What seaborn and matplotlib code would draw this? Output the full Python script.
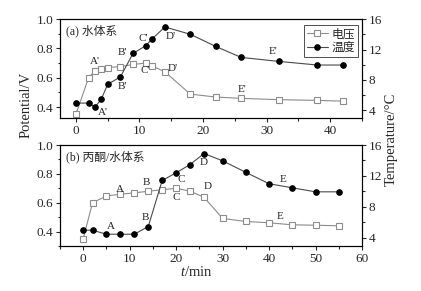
import matplotlib
matplotlib.use('Agg')
import matplotlib.pyplot as plt
from matplotlib.ticker import MultipleLocator
import pandas as pd
import seaborn as sns

# (a) water system
t_a = [0, 2, 3, 4, 5, 7, 9, 11, 12, 14, 18, 22, 26, 32, 38, 42]
volt_a = [0.35, 0.60, 0.647, 0.66, 0.669, 0.676, 0.69, 0.70, 0.68, 0.64, 0.488, 0.468, 0.459, 0.45, 0.445, 0.44]
temp_a = [4.96, 4.96, 4.43, 5.48, 7.43, 8.4, 11.5, 12.5, 13.4, 14.96, 14.0, 12.4, 10.96, 10.43, 9.96, 9.96]

# (b) acetone / water system
t_b = [0, 2, 5, 8, 11, 14, 17, 20, 23, 26, 30, 35, 40, 45, 50, 55]
volt_b = [0.351, 0.60, 0.647, 0.659, 0.668, 0.68, 0.69, 0.70, 0.68, 0.638, 0.491, 0.47, 0.461, 0.447, 0.444, 0.44]
temp_b = [4.95, 4.95, 4.43, 4.43, 4.43, 5.43, 11.4, 12.4, 13.47, 14.9, 13.95, 12.46, 10.98, 10.45, 9.93, 9.93]

# stage labels (t, temperature-axis value)
labels_a = [("A'", 3.0, 10.4), ("A'", 4.2, 3.74), ("B'", 7.3, 11.57), ("B'", 7.3, 7.13),
            ("C'", 10.6, 13.5), ("C'", 10.9, 9.2), ("D'", 15.0, 13.65), ("D'", 15.2, 9.5),
            ("E'", 31.0, 11.7), ("E'", 26.1, 6.74)]
labels_b = [("A", 7.9, 10.26), ("A", 6.0, 5.44), ("B", 13.5, 11.1), ("B", 13.3, 6.65),
            ("C", 21.2, 11.5), ("C", 20.1, 9.2), ("D", 26.0, 13.74), ("D", 26.9, 10.56),
            ("E", 43.0, 11.57), ("E", 42.3, 6.74)]

sns.set_style('ticks')
plt.rcParams['font.family'] = ['Liberation Serif', 'Noto Sans CJK SC']
plt.rcParams['mathtext.fontset'] = 'custom'
plt.rcParams['mathtext.rm'] = 'Liberation Serif'
plt.rcParams['mathtext.it'] = 'Liberation Serif:italic'
plt.rcParams['font.size'] = 9.5
for k in ['xtick', 'ytick']:
    plt.rcParams[k + '.direction'] = 'out'
    plt.rcParams[k + '.major.size'] = 3
    plt.rcParams[k + '.minor.size'] = 1.8
    plt.rcParams[k + '.major.width'] = 0.8
    plt.rcParams[k + '.minor.width'] = 0.8
    plt.rcParams[k + '.labelsize'] = 9.5
    plt.rcParams[k + '.major.pad'] = 2

fig = plt.figure(figsize=(4.21, 2.91), dpi=100)
ax_a = fig.add_axes([0.1425, 0.5945, 0.7173, 0.340])
ax_b = fig.add_axes([0.1425, 0.1546, 0.7173, 0.347])

vcol = '#8c8c8c'
tcol = '#4a4a4a'

panels = [(ax_a, t_a, volt_a, temp_a, labels_a, (-2.5, 45), 10, (0.325, 1.0), (3, 16), '(a) 水体系'),
          (ax_b, t_b, volt_b, temp_b, labels_b, (-5, 60), 10, (0.3, 1.0), (2.9, 16), '(b) 丙酮/水体系')]

for ax, t, v, T, labs, xl, xmaj, yl, yr, title in panels:
    df = pd.DataFrame({'t': t, 'V': v, 'T': T})
    ax2 = ax.twinx()
    sns.lineplot(data=df, x='t', y='V', ax=ax, color=vcol, lw=0.8, marker='s', ms=4,
                 mfc='white', mec=vcol, mew=0.8, label='电压', legend=False)
    sns.lineplot(data=df, x='t', y='T', ax=ax2, color=tcol, lw=0.8, marker='o', ms=4,
                 mfc='black', mec='black', label='温度', legend=False)
    ax.set_xlim(*xl)
    ax.set_ylim(*yl)
    ax2.set_ylim(*yr)
    ax.xaxis.set_major_locator(MultipleLocator(xmaj))
    ax.xaxis.set_minor_locator(MultipleLocator(xmaj / 2))
    ax.yaxis.set_major_locator(MultipleLocator(0.2))
    ax.yaxis.set_minor_locator(MultipleLocator(0.1))
    ax2.yaxis.set_major_locator(MultipleLocator(4))
    ax2.yaxis.set_minor_locator(MultipleLocator(2))
    ax.set_xlabel('')
    ax.set_ylabel('')
    ax2.set_ylabel('')
    for a in (ax, ax2):
        for s in a.spines.values():
            s.set_visible(True)
            s.set_linewidth(0.8)
            s.set_color('black')
    ax.text(0.02, 0.88, title, transform=ax.transAxes, fontsize=8.5, ha='left', va='center')
    for txt, x, y in labs:
        ax2.text(x, y, txt, fontsize=8, ha='center', va='center')
    if ax is ax_a:
        h1, l1 = ax.get_legend_handles_labels()
        h2, l2 = ax2.get_legend_handles_labels()
        leg = ax2.legend(h1 + h2, l1 + l2, loc='upper right', bbox_to_anchor=(0.995, 0.96),
                         fontsize=8.5, frameon=True, fancybox=False, handlelength=1.8,
                         handletextpad=0.3, borderpad=0.25, labelspacing=0.15, borderaxespad=0.2)
        leg.get_frame().set_edgecolor('black')
        leg.get_frame().set_linewidth(0.6)

fig.text(0.062, 0.64, 'Potential/V', rotation=90, ha='center', va='center', fontsize=10.5)
fig.text(0.929, 0.52, 'Temperature/°C', rotation=90, ha='center', va='center', fontsize=10.5)
fig.text(0.466, 0.065, '$t$/min', ha='center', va='center', fontsize=10.5)

fig.savefig('out.png', dpi=100)
